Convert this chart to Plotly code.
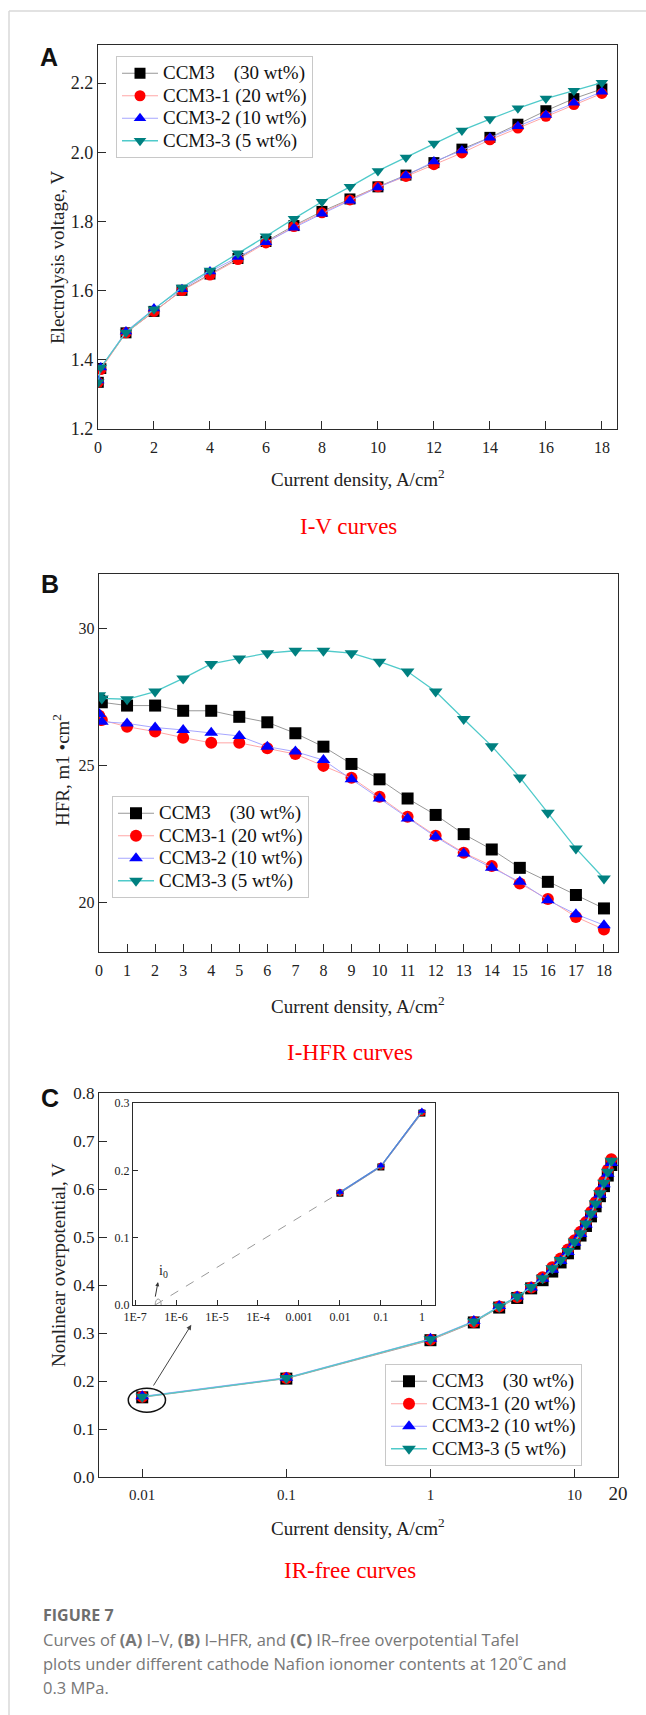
import math
import plotly.graph_objects as go

# FIGURE SIZE (pixels)
W, H = 646, 1715

# DATA
series_names = ["CCM3\u00a0\u00a0\u00a0\u00a0(30 wt%)", "CCM3-1 (20 wt%)", "CCM3-2 (10 wt%)", "CCM3-3 (5 wt%)"]

current_density = [0.01, 0.1, 1, 2, 3, 4, 5, 6, 7, 8, 9, 10, 11, 12, 13, 14, 15, 16, 17, 18]

# (A) I-V curves, V
iv_ccm3 = [1.335, 1.375, 1.478, 1.540, 1.601, 1.648, 1.693, 1.742, 1.788, 1.829,
           1.865, 1.900, 1.934, 1.970, 2.009, 2.043, 2.081, 2.120, 2.155, 2.183]
iv_ccm3_1 = [1.335, 1.372, 1.478, 1.540, 1.600, 1.645, 1.690, 1.738, 1.785, 1.825,
             1.862, 1.900, 1.930, 1.964, 1.998, 2.036, 2.070, 2.104, 2.138, 2.170]
iv_ccm3_2 = [1.340, 1.378, 1.482, 1.548, 1.604, 1.655, 1.697, 1.740, 1.782, 1.822,
             1.860, 1.898, 1.933, 1.973, 2.005, 2.042, 2.075, 2.108, 2.143, 2.175]
iv_ccm3_3 = [1.335, 1.378, 1.479, 1.546, 1.609, 1.658, 1.708, 1.757, 1.808, 1.857,
             1.900, 1.946, 1.985, 2.025, 2.063, 2.096, 2.127, 2.155, 2.178, 2.201]

# (B) I-HFR curves
hfr_ccm3 = [27.35, 27.29, 27.17, 27.17, 26.98, 26.98, 26.76, 26.56, 26.16, 25.67,
            25.04, 24.48, 23.78, 23.18, 22.48, 21.92, 21.25, 20.74, 20.26, 19.77]
hfr_ccm3_1 = [26.80, 26.64, 26.40, 26.22, 26.00, 25.81, 25.81, 25.61, 25.40, 24.97,
              24.54, 23.84, 23.11, 22.42, 21.80, 21.32, 20.68, 20.11, 19.46, 19.00]
hfr_ccm3_2 = [26.86, 26.58, 26.52, 26.37, 26.28, 26.18, 26.06, 25.67, 25.49, 25.18,
              24.48, 23.78, 23.05, 22.38, 21.77, 21.25, 20.74, 20.07, 19.56, 19.16]
hfr_ccm3_3 = [27.55, 27.43, 27.40, 27.68, 28.16, 28.69, 28.89, 29.08, 29.17, 29.17,
              29.08, 28.77, 28.41, 27.68, 26.68, 25.69, 24.55, 23.26, 21.96, 20.86]

# (C) IR-free curves, V
irf_ccm3 = [0.166, 0.205, 0.285, 0.322, 0.353, 0.373, 0.393, 0.410, 0.428, 0.447,
            0.466, 0.486, 0.503, 0.523, 0.543, 0.564, 0.585, 0.606, 0.628, 0.650]
irf_ccm3_1 = [0.167, 0.206, 0.286, 0.323, 0.355, 0.375, 0.395, 0.416, 0.437, 0.455,
              0.474, 0.493, 0.511, 0.531, 0.552, 0.573, 0.594, 0.616, 0.640, 0.662]
irf_ccm3_2 = [0.168, 0.207, 0.288, 0.325, 0.356, 0.376, 0.395, 0.413, 0.432, 0.450,
              0.469, 0.488, 0.506, 0.526, 0.547, 0.567, 0.588, 0.610, 0.632, 0.654]
irf_ccm3_3 = [0.167, 0.206, 0.287, 0.324, 0.355, 0.376, 0.396, 0.414, 0.435, 0.452,
              0.471, 0.490, 0.508, 0.528, 0.549, 0.570, 0.591, 0.613, 0.636, 0.659]

# inset (Tafel extrapolation to i0)
inset_density = [0.01, 0.1, 1]
i0_density = [3.1e-7, 0.01]
i0_overpotential = [0.0, 0.167]

# tick labels
iv_x_ticks = [0, 2, 4, 6, 8, 10, 12, 14, 16, 18]
iv_y_ticks = [1.2, 1.4, 1.6, 1.8, 2.0, 2.2]
hfr_x_ticks = [0, 1, 2, 3, 4, 5, 6, 7, 8, 9, 10, 11, 12, 13, 14, 15, 16, 17, 18]
hfr_y_ticks = [20, 25, 30]
irf_x_ticks = [0.01, 0.1, 1, 10, 20]
irf_x_labels = ["0.01", "0.1", "1", "10", "<span style='font-size:19px'>20</span>"]
irf_y_ticks = [0.0, 0.1, 0.2, 0.3, 0.4, 0.5, 0.6, 0.7, 0.8]
inset_x_ticks = [1e-7, 1e-6, 1e-5, 1e-4, 0.001, 0.01, 0.1, 1]
inset_x_labels = ["1E-7", "1E-6", "1E-5", "1E-4", "0.001", "0.01", "0.1", "1"]
inset_y_ticks = [0.0, 0.1, 0.2, 0.3]

# STYLES
marker_colors = ["black", "red", "blue", "#008080"]
line_colors = ["#8c8c8c", "#ff9c9c", "#9c9cff", "#4fcaca"]
line_widths = [0.9, 0.9, 0.9, 1.3]
inset_line_colors = ["#8c8c8c", "#ff9c9c", "#4f86d9", "#4f86d9"]
marker_symbols = ["square", "circle", "triangle-up", "triangle-down"]
SERIF = "Liberation Serif"
AXIS_COLOR = "#2b2b2b"


def px_x(x):
    '''pixel column -> paper x'''
    return x / W


def px_y(y):
    '''pixel row -> paper y'''
    return 1 - y / H


def add_series(fig, xs, series, xaxis, yaxis, legend, showlegend=True, size=11,
               order=(0, 1, 2, 3), colors=line_colors):
    ''' Adds the four CCM series as lines+markers to one subplot

    Parameters
    ----------
    fig: figure
    xs: list of x values
    series: list of four y lists

    Returns
    -------
    None
    '''
    for i in order:
        fig.add_trace(go.Scatter(
            x=xs, y=series[i],
            # big text, but rows spaced by the smaller legend font
            name="<span style='font-size:19px'>" + series_names[i] + "</span>",
            mode="lines+markers",
            line=dict(color=colors[i], width=line_widths[i]),
            marker=dict(symbol=marker_symbols[i], color=marker_colors[i], size=size),
            xaxis=xaxis, yaxis=yaxis, legend=legend, showlegend=showlegend))


def frame_axis(domain, anchor, size=16, **extra):
    ''' Boxed axis with inside ticks, serif labels '''
    d = dict(domain=domain, anchor=anchor, showline=True, mirror=True,
             linecolor=AXIS_COLOR, linewidth=1.4, ticks="inside", ticklen=8,
             tickwidth=1.3, tickcolor=AXIS_COLOR, showgrid=False, zeroline=False,
             automargin=False, tickfont=dict(family=SERIF, size=size, color="#222"))
    d.update(extra)
    return d


def legend_box(x, y):
    return dict(x=px_x(x), y=px_y(y), xanchor="left", yanchor="top",
                bgcolor="white", bordercolor="#c8c8c8", borderwidth=1,
                font=dict(family=SERIF, size=15, color="#111"),
                tracegroupgap=0, itemwidth=36)


def text_note(text, x, y, size=19, color="#222", family=SERIF, angle=0, xanchor="center"):
    return dict(text=text, x=px_x(x), y=px_y(y), xref="paper", yref="paper",
                showarrow=False, textangle=angle, xanchor=xanchor, yanchor="middle",
                font=dict(family=family, size=size, color=color))


fig = go.Figure()

# traces
add_series(fig, current_density, [iv_ccm3, iv_ccm3_1, iv_ccm3_2, iv_ccm3_3], "x", "y", "legend")
add_series(fig, current_density, [hfr_ccm3, hfr_ccm3_1, hfr_ccm3_2, hfr_ccm3_3], "x2", "y2", "legend2", size=12)
add_series(fig, current_density, [irf_ccm3, irf_ccm3_1, irf_ccm3_2, irf_ccm3_3], "x3", "y3", "legend3", size=12)

# inset: dashed extrapolation then the three measured points
fig.add_trace(go.Scatter(x=i0_density, y=i0_overpotential, mode="lines",
                         line=dict(color="#9a9a9a", width=1, dash="dash"),
                         xaxis="x4", yaxis="y4", showlegend=False))
add_series(fig, inset_density,
           [irf_ccm3[:3], irf_ccm3_1[:3], irf_ccm3_2[:3], irf_ccm3_3[:3]],
           "x4", "y4", "legend3", showlegend=False, size=7, order=(0, 1, 3, 2),
           colors=inset_line_colors)

layout = dict(
    width=W, height=H, margin=dict(l=0, r=0, t=0, b=0, pad=0, autoexpand=False),
    paper_bgcolor="white", plot_bgcolor="white", showlegend=True,
    xaxis=frame_axis([px_x(98), px_x(617)], "y", range=[0, 18.54], tickvals=iv_x_ticks,
                     ticklabelstandoff=4),
    yaxis=frame_axis([px_y(429), px_y(45)], "x", size=18, range=[1.2, 2.31],
                     tickvals=iv_y_ticks, tickformat=".1f"),
    xaxis2=frame_axis([px_x(99), px_x(618)], "y2", range=[0, 18.5], tickvals=hfr_x_ticks,
                      ticklabelstandoff=4),
    yaxis2=frame_axis([px_y(952), px_y(574)], "x2", range=[18.18, 31.97], tickvals=hfr_y_ticks),
    xaxis3=frame_axis([px_x(99), px_x(618)], "y3", size=15, type="log", range=[-2.3, 1.3015],
                      tickvals=irf_x_ticks, ticktext=irf_x_labels, ticklabelstandoff=4),
    yaxis3=frame_axis([px_y(1477), px_y(1093)], "x3", size=17, range=[0, 0.8],
                      tickvals=irf_y_ticks, tickformat=".1f"),
    xaxis4=frame_axis([px_x(133), px_x(435)], "y4", size=12, type="log", range=[-7.05, 0.32],
                      tickvals=inset_x_ticks, ticktext=inset_x_labels, ticklen=5),
    yaxis4=frame_axis([px_y(1305), px_y(1103)], "x4", size=12, range=[0, 0.3],
                      tickvals=inset_y_ticks, tickformat=".1f", ticklen=5),
    legend=legend_box(116, 56),
    legend2=legend_box(112, 796),
    legend3=legend_box(385, 1364),
)
fig.update_layout(**layout)

xtitle = "Current density, A/cm<sup>2</sup>"
notes = [
    # panel letters
    text_note("<b>A</b>", 49, 57, size=25, family="Liberation Sans", color="#111"),
    text_note("<b>B</b>", 50, 584, size=25, family="Liberation Sans", color="#111"),
    text_note("<b>C</b>", 50, 1098, size=25, family="Liberation Sans", color="#111"),
    # axis titles
    text_note("Electrolysis voltage, V", 58, 257, angle=-90),
    text_note("HFR, m1 •cm<sup>2</sup>", 61, 770, angle=-90),
    text_note("Nonlinear overpotential, V", 58, 1265, angle=-90),
    text_note(xtitle, 358, 478),
    text_note(xtitle, 358, 1005),
    text_note(xtitle, 358, 1527),
    # red panel subtitles
    text_note("I-V curves", 348, 526, size=23, color="red"),
    text_note("I-HFR curves", 350, 1052, size=23, color="red"),
    text_note("IR-free curves", 350, 1570, size=23, color="red"),
    # caption
    text_note("<b>FIGURE 7</b>", 41, 1615, size=16, family="Open Sans", color="#6e6e6e", xanchor="left"),
    text_note("Curves of <b>(A)</b> I\u2013V, <b>(B)</b> I\u2013HFR, and <b>(C)</b> IR\u2013free overpotential Tafel",
              41, 1639, size=16.5, family="Open Sans", color="#777", xanchor="left"),
    text_note("plots under different cathode Nafion ionomer contents at 120\u02daC and",
              41, 1663, size=16.5, family="Open Sans", color="#777", xanchor="left"),
    text_note("0.3 MPa.", 41, 1687, size=16.5, family="Open Sans", color="#777", xanchor="left"),
]

# i0 label and small arrow inside the inset
notes.append(dict(text="i<sub>0</sub>", x=-6.3, y=0.05, xref="x4", yref="y4", showarrow=False,
                  font=dict(family=SERIF, size=14, color="#222")))
notes.append(dict(text="", x=-6.44, y=0.034, xref="x4", yref="y4", ax=-3, ay=16,
                  showarrow=True, arrowhead=2, arrowsize=0.8, arrowwidth=1, arrowcolor="#333"))
# arrow from the circled point up to the inset
notes.append(dict(text="", x=math.log10(0.0219), y=0.317, xref="x3", yref="y3",
                  ax=math.log10(0.0118), ay=0.1875, axref="x3", ayref="y3",
                  showarrow=True, arrowhead=2, arrowsize=1, arrowwidth=1, arrowcolor="#444"))
fig.update_layout(annotations=notes)

# ellipse drawn round the first IR-free point (axis units)
ring_x = [0.0080, 0.0145]
ring_y = [0.135, 0.185]

shapes = [
    # page border (top and left)
    dict(type="line", xref="paper", yref="paper", x0=px_x(9), x1=1, y0=px_y(11), y1=px_y(11),
         line=dict(color="#d9d9d9", width=1.5)),
    dict(type="line", xref="paper", yref="paper", x0=px_x(9), x1=px_x(9), y0=px_y(11), y1=0,
         line=dict(color="#d9d9d9", width=1.5)),
    dict(type="circle", xref="x3", yref="y3", x0=ring_x[0], x1=ring_x[1],
         y0=ring_y[0], y1=ring_y[1], line=dict(color="#111", width=1.5)),
    # small circle at i0
    dict(type="circle", xref="x4", yref="y4", xsizemode="pixel", ysizemode="pixel",
         xanchor=i0_density[0], yanchor=i0_overpotential[0], x0=-6, x1=6, y0=-6, y1=6,
         line=dict(color="#9a9a9a", width=1)),
]
fig.update_layout(shapes=shapes)

fig.write_html("out.html", config={"displayModeBar": False},
               post_script="document.body.style.margin='0';")
